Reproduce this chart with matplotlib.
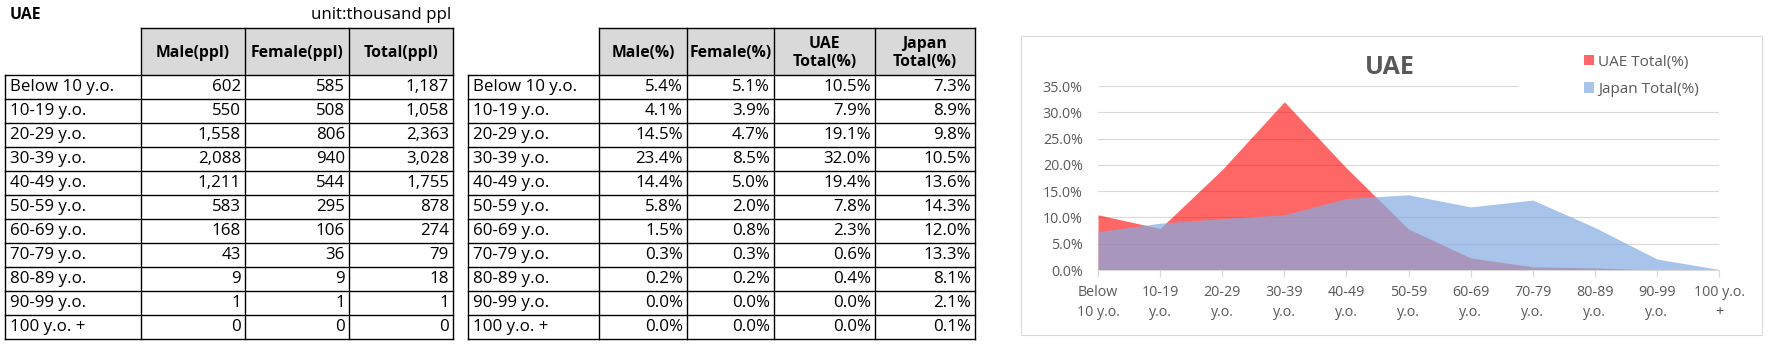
import matplotlib
matplotlib.use("Agg")
import matplotlib.pyplot as plt
from matplotlib.patches import Rectangle, Patch

# population by age group, thousand people
age_groups = ["Below 10 y.o.", "10-19 y.o.", "20-29 y.o.", "30-39 y.o.",
              "40-49 y.o.", "50-59 y.o.", "60-69 y.o.", "70-79 y.o.",
              "80-89 y.o.", "90-99 y.o.", "100 y.o. +"]
male_ppl = [602, 550, 1558, 2088, 1211, 583, 168, 43, 9, 1, 0]
female_ppl = [585, 508, 806, 940, 544, 295, 106, 36, 9, 1, 0]
total_ppl = [1187, 1058, 2363, 3028, 1755, 878, 274, 79, 18, 1, 0]

# shares of total population, percent
male_pct = [5.4, 4.1, 14.5, 23.4, 14.4, 5.8, 1.5, 0.3, 0.2, 0.0, 0.0]
female_pct = [5.1, 3.9, 4.7, 8.5, 5.0, 2.0, 0.8, 0.3, 0.2, 0.0, 0.0]
uae_total_pct = [10.5, 7.9, 19.1, 32.0, 19.4, 7.8, 2.3, 0.6, 0.4, 0.0, 0.0]
japan_total_pct = [7.3, 8.9, 9.8, 10.5, 13.6, 14.3, 12.0, 13.3, 8.1, 2.1, 0.1]

ppl_headers = ["Male(ppl)", "Female(ppl)", "Total(ppl)"]
pct_headers = ["Male(%)", "Female(%)", "UAE\nTotal(%)", "Japan\nTotal(%)"]
chart_labels = ["Below\n10 y.o.", "10-19\ny.o.", "20-29\ny.o.", "30-39\ny.o.",
                "40-49\ny.o.", "50-59\ny.o.", "60-69\ny.o.", "70-79\ny.o.",
                "80-89\ny.o.", "90-99\ny.o.", "100 y.o.\n+"]

W, H = 1770, 345
FONT = ["Open Sans", "DejaVu Sans"]
BODY_SIZE = 12.2
HEAD_SIZE = 11.3
GRID = "#D9D9D9"
GREY_TEXT = "#595959"

fig = plt.figure(figsize=(W / 100, H / 100), dpi=100)
canvas = fig.add_axes([0, 0, 1, 1])
canvas.set_xlim(0, W)
canvas.set_ylim(H, 0)
canvas.axis("off")


def draw_table(col_edges, headers, columns, fmt,
               head_top=28, head_bot=75, row_h=24):
    n = len(age_groups)
    bottom = head_bot + n * row_h
    x0, x1 = col_edges[1], col_edges[-1]
    canvas.add_patch(Rectangle((x0, head_top), x1 - x0, head_bot - head_top,
                               facecolor="#D9D9D9", edgecolor="none"))
    lw = 1.0
    canvas.plot([x0, x1], [head_top, head_top], color="black", lw=lw)
    for i in range(n + 1):
        y = head_bot + i * row_h
        canvas.plot([col_edges[0], x1], [y, y], color="black", lw=lw)
    for j, x in enumerate(col_edges):
        top = head_top if j > 0 else head_bot
        canvas.plot([x, x], [top, bottom], color="black", lw=lw)

    for j, h in enumerate(headers):
        cx = (col_edges[j + 1] + col_edges[j + 2]) / 2
        canvas.text(cx, (head_top + head_bot) / 2 + 1.5, h, ha="center",
                    va="center", fontsize=HEAD_SIZE, fontweight="bold",
                    family=FONT, linespacing=1.15)

    for i, label in enumerate(age_groups):
        cy = head_bot + (i + 0.5) * row_h
        canvas.text(col_edges[0] + 5, cy, label, ha="left", va="center",
                    fontsize=BODY_SIZE, family=FONT)
        for j, col in enumerate(columns):
            canvas.text(col_edges[j + 2] - 4, cy, fmt(col[i]), ha="right",
                        va="center", fontsize=BODY_SIZE, family=FONT)


canvas.text(10, 15, "UAE", ha="left", va="center", fontsize=HEAD_SIZE,
            fontweight="bold", family=FONT)
canvas.text(451, 15, "unit:thousand ppl", ha="right", va="center",
            fontsize=BODY_SIZE, family=FONT)

draw_table([5, 141, 245, 349, 453], ppl_headers,
           [male_ppl, female_ppl, total_ppl], lambda v: f"{v:,}")
draw_table([468, 599, 687, 774, 875, 975], pct_headers,
           [male_pct, female_pct, uae_total_pct, japan_total_pct],
           lambda v: f"{v:.1f}%")

# chart frame and title
canvas.add_patch(Rectangle((1021, 36), 741, 299, facecolor="white",
                           edgecolor=GRID, lw=0.8))
canvas.text(1390, 68, "UAE", ha="center", va="center", fontsize=18,
            fontweight="bold", color=GREY_TEXT, family=FONT)

px0, px1, py0, py1 = 1098, 1719, 86, 270
ax = fig.add_axes([px0 / W, (H - py1) / H, (px1 - px0) / W, (py1 - py0) / H])
ax.set_facecolor("none")

xs = list(range(len(chart_labels)))
uae = [v / 100 for v in uae_total_pct]
jpn = [v / 100 for v in japan_total_pct]

for k in range(1, 7):
    ax.axhline(k * 0.05, color=GRID, lw=0.8, zorder=0)
# the top gridline stops short of the legend block
ax.hlines(0.35, 0, 6.76, color=GRID, lw=0.8, zorder=0, clip_on=False)

ax.fill_between(xs, uae, 0, color="#FF0000", alpha=0.6, lw=0, zorder=1)
ax.fill_between(xs, jpn, 0, color="#84ABE2", alpha=0.7, lw=0, zorder=2)

ax.set_xlim(0, 10)
ax.set_ylim(0, 0.35)
ax.set_yticks([k * 0.05 for k in range(8)])
ax.set_yticklabels([f"{k * 5:.1f}%" for k in range(8)])
ax.set_xticks(xs)
ax.set_xticklabels(chart_labels, linespacing=1.45)
for t in ax.get_xticklabels() + ax.get_yticklabels():
    t.set_family(FONT)
    t.set_color(GREY_TEXT)
ax.tick_params(axis="y", length=0, pad=11, labelsize=10.3)
ax.tick_params(axis="x", length=5, width=0.8, color=GRID, pad=6,
               labelsize=10.3)
for side in ("top", "right", "left"):
    ax.spines[side].set_visible(False)
ax.spines["bottom"].set_color(GRID)
ax.spines["bottom"].set_linewidth(0.8)
ax.spines["bottom"].set_zorder(3)

handles = [Patch(facecolor="#FF0000", alpha=0.6, edgecolor="none"),
           Patch(facecolor="#84ABE2", alpha=0.7, edgecolor="none")]
fig.legend(handles, ["UAE Total(%)", "Japan Total(%)"], loc="upper left",
           bbox_to_anchor=(1576 / W, 1 - 47 / H), frameon=False,
           handlelength=0.65, handleheight=0.65, handletextpad=0.3,
           labelspacing=0.8, borderpad=0,
           prop={"family": FONT, "size": 11}, labelcolor=GREY_TEXT)

fig.savefig("out.png", dpi=100)
